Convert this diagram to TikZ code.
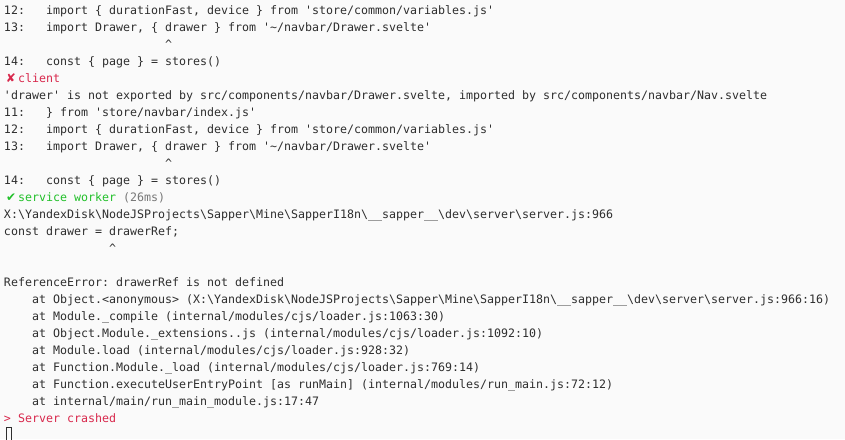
\documentclass[tikz,border=0pt]{standalone}
\usepackage{fontspec}
\setmonofont{DejaVu Sans Mono}
\newfontfamily\symfont{DejaVu Sans}
\definecolor{bg}{HTML}{FAFAFA}
\definecolor{txt}{HTML}{2E2E2E}
\definecolor{errred}{HTML}{D8284C}
\definecolor{okgreen}{HTML}{22C02A}
\definecolor{dimgray}{HTML}{777777}
\newcommand\putline[4][]{%
  \node[termtext,#1] (#2) at ({4+7*#3},{-14.3-17*\rowno}) {#4};}
\newcommand\rowno{0}
\tikzset{
  termtext/.style={anchor=base west,inner sep=0pt,outer sep=0pt,text=txt,
    font=\ttfamily\fontsize{11.63pt}{17pt}\selectfont},
  redtext/.style={text=errred},
  greentext/.style={text=okgreen},
  graytext/.style={text=dimgray},
  symb/.style={anchor=base,inner sep=0pt,font=\symfont\fontsize{12pt}{17pt}\selectfont},
  cursorbox/.style={draw=txt,line width=0.9pt}
}
\newcommand\row[1]{\renewcommand\rowno{#1}}
\begin{document}
\begin{tikzpicture}[x=1pt,y=1pt]
\fill[bg] (0,0) rectangle (845,-439);
\useasboundingbox (0,0) rectangle (845,-439);
% row 0
\row{0}
\putline{n1a}{0}{12:}
\putline{n1b}{6}{import \{ durationFast, device \} from 'store/common/variables.js'}
\row{1}
\putline{n2a}{0}{13:}
\putline{n2b}{6}{import Drawer, \{ drawer \} from '\textasciitilde/navbar/Drawer.svelte'}
\row{2}
\putline{n3}{23}{\textasciicircum}
\row{3}
\putline{n4a}{0}{14:}
\putline{n4b}{6}{const \{ page \} = stores()}
\row{4}
\node[symb,text=errred] (n5s) at (10.8,-82.3) {✘};
\putline[redtext]{n5}{2}{client}
\row{5}
\putline{n6}{0}{'drawer' is not exported by src/components/navbar/Drawer.svelte, imported by src/components/navbar/Nav.svelte}
\row{6}
\putline{n7a}{0}{11:}
\putline{n7b}{6}{\} from 'store/navbar/index.js'}
\row{7}
\putline{n8a}{0}{12:}
\putline{n8b}{6}{import \{ durationFast, device \} from 'store/common/variables.js'}
\row{8}
\putline{n9a}{0}{13:}
\putline{n9b}{6}{import Drawer, \{ drawer \} from '\textasciitilde/navbar/Drawer.svelte'}
\row{9}
\putline{n10}{23}{\textasciicircum}
\row{10}
\putline{n11a}{0}{14:}
\putline{n11b}{6}{const \{ page \} = stores()}
\row{11}
\node[symb,text=okgreen] (n12s) at (11.2,-201.3) {✔};
\putline[greentext]{n12}{2}{service worker}
\putline[graytext]{n12t}{17}{(26ms)}
\row{12}
\putline{n13}{0}{X:\textbackslash{}YandexDisk\textbackslash{}NodeJSProjects\textbackslash{}Sapper\textbackslash{}Mine\textbackslash{}SapperI18n\textbackslash{}\_\_sapper\_\_\textbackslash{}dev\textbackslash{}server\textbackslash{}server.js:966}
\row{13}
\putline{n14}{0}{const drawer = drawerRef;}
\row{14}
\putline{n15}{15}{\textasciicircum}
\row{16}
\putline{n17}{0}{ReferenceError: drawerRef is not defined}
\row{17}
\putline{n18}{4}{at Object.<anonymous> (X:\textbackslash{}YandexDisk\textbackslash{}NodeJSProjects\textbackslash{}Sapper\textbackslash{}Mine\textbackslash{}SapperI18n\textbackslash{}\_\_sapper\_\_\textbackslash{}dev\textbackslash{}server\textbackslash{}server.js:966:16)}
\row{18}
\putline{n19}{4}{at Module.\_compile (internal/modules/cjs/loader.js:1063:30)}
\row{19}
\putline{n20}{4}{at Object.Module.\_extensions..js (internal/modules/cjs/loader.js:1092:10)}
\row{20}
\putline{n21}{4}{at Module.load (internal/modules/cjs/loader.js:928:32)}
\row{21}
\putline{n22}{4}{at Function.Module.\_load (internal/modules/cjs/loader.js:769:14)}
\row{22}
\putline{n23}{4}{at Function.executeUserEntryPoint [as runMain] (internal/modules/run\_main.js:72:12)}
\row{23}
\putline{n24}{4}{at internal/main/run\_main\_module.js:17:47}
\row{24}
\putline[redtext]{n25a}{0}{>}
\putline[redtext]{n25b}{2}{Server crashed}
% cursor
\draw[cursorbox] (6,-427.5) rectangle (11.7,-441);
\end{tikzpicture}
\end{document}
